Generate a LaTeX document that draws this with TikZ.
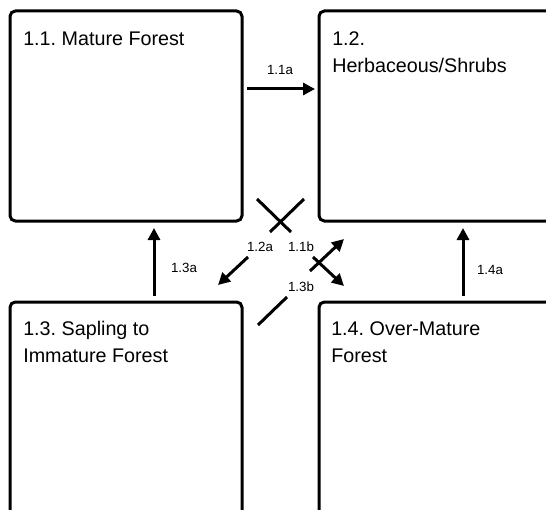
\documentclass[tikz,border=0pt]{standalone}
\usepackage{fontspec}
\setmainfont{Liberation Sans}
\usetikzlibrary{arrows.meta}
\frenchspacing
\begin{document}
\begin{tikzpicture}[x=0.75pt,y=-0.75pt,
  box/.style={draw=black,line width=2.25pt,rounded corners=4pt,rectangle,inner sep=0pt},
  title/.style={anchor=base west,inner sep=0pt,align=left,font=\fontsize{14.8pt}{20pt}\selectfont},
  lbl/.style={inner sep=0pt,font=\fontsize{10pt}{12pt}\selectfont},
  arr/.style={line width=2.25pt,-{Triangle[length=9pt,width=9pt]}},
  seg/.style={line width=2.25pt}]
\useasboundingbox (0,0) rectangle (546,510);
\clip (0,0) rectangle (546,510);
% boxes
\node[box,minimum width=174pt,minimum height=157.5pt] (b11) at (126,116) {};
\node[box,minimum width=210.75pt,minimum height=157.5pt] (b12) at (459.5,116) {};
\node[box,minimum width=174pt,minimum height=193.5pt] (b13) at (126,431) {};
\node[box,minimum width=210.75pt,minimum height=193.5pt] (b14) at (459.5,431) {};
% titles (anchor is the baseline of the last line)
\node[title] (t11) at (23,45.5) {1.1. Mature Forest};
\node[title] (t12) at (332,72.5) {1.2.\\Herbaceous/Shrubs};
\node[title] (t13) at (23,362.5) {1.3. Sapling to\\Immature Forest};
\node[title] (t14) at (331,362.5) {1.4. Over-Mature\\Forest};
% connector end points
\coordinate (a1s) at (247,89);   \coordinate (a1e) at (315,89);
\coordinate (a3s) at (154,296);  \coordinate (a3e) at (154,228);
\coordinate (a4s) at (463,296);  \coordinate (a4e) at (463,228);
\coordinate (x1s) at (257,199);  \coordinate (x1e) at (291,232);
\coordinate (x2s) at (304,199);  \coordinate (x2e) at (270,232);
\coordinate (a2s) at (248,257);  \coordinate (a2e) at (218,285);
\coordinate (bns) at (310,271);  \coordinate (bne) at (344,239);
\coordinate (bss) at (313,257);  \coordinate (bse) at (344,286);
\coordinate (l3s) at (287,297);  \coordinate (l3e) at (258,325);
% connectors
\draw[arr] (a1s) -- (a1e);
\draw[arr] (a3s) -- (a3e);
\draw[arr] (a4s) -- (a4e);
\draw[seg] (x1s) -- (x1e);
\draw[seg] (x2s) -- (x2e);
\draw[arr] (a2s) -- (a2e);
\draw[arr] (bns) -- (bne);
\draw[arr] (bss) -- (bse);
\draw[seg] (l3s) -- (l3e);
% labels
\node[lbl] (n11a) at (280,70) {1.1a};
\node[lbl] (n13a) at (184,268) {1.3a};
\node[lbl] (n14a) at (490,270) {1.4a};
\node[lbl] (n12a) at (260,247) {1.2a};
\node[lbl] (n11b) at (301,247) {1.1b};
\node[lbl] (n13b) at (301,287) {1.3b};
\end{tikzpicture}
\end{document}
